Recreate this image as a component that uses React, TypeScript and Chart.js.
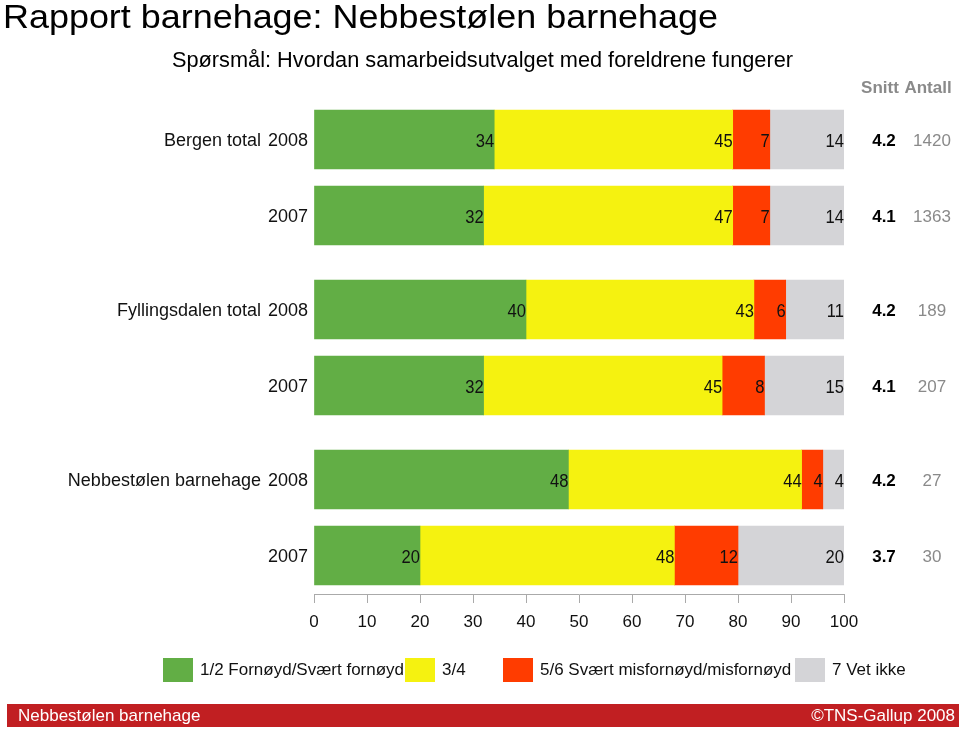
import React, { useEffect, useRef } from "react";
import { Chart, registerables } from "chart.js";

Chart.register(...registerables);

// ---------- data ----------
const groups = ["Bergen total", "Fyllingsdalen total", "Nebbestølen barnehage"];
const years = ["2008", "2007"];
const rowGroup = [0, 0, 1, 1, 2, 2];
const rowYear = [0, 1, 0, 1, 0, 1];

const seriesNames = [
  "1/2 Fornøyd/Svært fornøyd",
  "3/4",
  "5/6 Svært misfornøyd/misfornøyd",
  "7 Vet ikke",
];
const satisfied = [34, 32, 40, 32, 48, 20];
const middle = [45, 47, 43, 45, 44, 48];
const dissatisfied = [7, 7, 6, 8, 4, 12];
const dontKnow = [14, 14, 11, 15, 4, 20];

const snitt = ["4.2", "4.1", "4.2", "4.1", "4.2", "3.7"];
const antall = ["1420", "1363", "189", "207", "27", "30"];

const xTicks = [0, 10, 20, 30, 40, 50, 60, 70, 80, 90, 100];

const title = "Rapport barnehage: Nebbestølen barnehage";
const subtitle = "Spørsmål: Hvordan samarbeidsutvalget med foreldrene fungerer";
const footerLeft = "Nebbestølen barnehage";
const footerRight = "©TNS-Gallup 2008";

// ---------- styles / layout ----------
const colors = ["#62ae45", "#f5f210", "#ff3c00", "#d4d4d7"];
const FONT = "'Liberation Sans', Arial, Helvetica, sans-serif";
const GROUP_STEP = 170;
const ROW_STEP = 76;
const rowPositions = rowGroup.map((g, i) => g * GROUP_STEP + rowYear[i] * ROW_STEP);
const legendX = [163, 405, 503, 795];

function fitText(ctx: any, text: string, x: number, y: number, width: number) {
  const w = ctx.measureText(text).width;
  ctx.save();
  ctx.translate(x, y);
  ctx.scale(width / w, 1);
  ctx.fillText(text, 0, 0);
  ctx.restore();
}

const overlayPlugin = {
  id: "overlay",
  afterDatasetsDraw(chart: any) {
    const ctx = chart.ctx;
    ctx.save();
    ctx.font = `18px ${FONT}`;
    ctx.fillStyle = "#111";
    ctx.textAlign = "right";
    ctx.textBaseline = "middle";
    chart.data.datasets.forEach((ds: any, di: number) => {
      const meta = chart.getDatasetMeta(di);
      meta.data.forEach((el: any, i: number) => {
        ctx.save();
        ctx.translate(el.x, el.y + 3);
        ctx.scale(0.92, 1);
        ctx.fillText(String(ds.data[i]), 0, 0);
        ctx.restore();
      });
    });
    ctx.restore();
  },
  afterDraw(chart: any) {
    const ctx = chart.ctx;
    const yScale = chart.scales.y;
    ctx.save();
    // title
    ctx.fillStyle = "#000";
    ctx.textBaseline = "alphabetic";
    ctx.textAlign = "left";
    ctx.font = `33px ${FONT}`;
    fitText(ctx, title, 3, 28, 715);
    ctx.font = `22px ${FONT}`;
    fitText(ctx, subtitle, 172, 67, 621);

    // column headers
    ctx.font = `bold 17px ${FONT}`;
    ctx.fillStyle = "#8a8a8a";
    ctx.textAlign = "center";
    ctx.fillText("Snitt", 880, 93);
    ctx.fillText("Antall", 928, 93);

    // row labels and columns
    rowPositions.forEach((p, i) => {
      const y = yScale.getPixelForValue(p) + 2;
      ctx.textBaseline = "middle";
      ctx.font = `18px ${FONT}`;
      ctx.fillStyle = "#111";
      ctx.textAlign = "right";
      ctx.fillText(years[rowYear[i]], 308, y);
      if (rowYear[i] === 0) {
        ctx.fillText(groups[rowGroup[i]], 261, y);
      }
      ctx.font = `bold 17px ${FONT}`;
      ctx.textAlign = "center";
      ctx.fillStyle = "#000";
      ctx.fillText(snitt[i], 884, y);
      ctx.font = `17px ${FONT}`;
      ctx.fillStyle = "#8a8a8a";
      ctx.fillText(antall[i], 932, y);
    });

    // legend
    ctx.textAlign = "left";
    ctx.textBaseline = "middle";
    ctx.font = `17px ${FONT}`;
    seriesNames.forEach((name, i) => {
      ctx.fillStyle = colors[i];
      ctx.fillRect(legendX[i], 658, 30, 24);
      ctx.fillStyle = "#111";
      ctx.fillText(name, legendX[i] + 37, 670);
    });

    // footer
    ctx.fillStyle = "#c11f22";
    ctx.fillRect(7, 704, 952, 23);
    ctx.fillStyle = "#fff";
    ctx.font = `17px ${FONT}`;
    ctx.textAlign = "left";
    ctx.fillText(footerLeft, 18, 716);
    ctx.textAlign = "right";
    ctx.fillText(footerRight, 955, 716);
    ctx.restore();
  },
};

export default function App() {
  const canvasRef = useRef<HTMLCanvasElement | null>(null);

  useEffect(() => {
    document.body.style.margin = "0";
    const canvas = canvasRef.current;
    if (!canvas) return;
    const valueSeries = [satisfied, middle, dissatisfied, dontKnow];
    const chart = new Chart(canvas, {
      type: "bar",
      data: {
        labels: rowPositions as any,
        datasets: valueSeries.map((vals, i) => ({
          label: seriesNames[i],
          data: vals,
          backgroundColor: colors[i],
          borderWidth: 0,
          barThickness: 59,
        })),
      },
      options: {
        indexAxis: "y",
        animation: false,
        responsive: false,
        maintainAspectRatio: false,
        layout: { padding: { left: 314, right: 116, top: 100, bottom: 97 } },
        plugins: {
          legend: { display: false },
          title: { display: false },
          tooltip: { enabled: false },
        },
        scales: {
          x: {
            type: "linear",
            stacked: true,
            min: 0,
            max: 100,
            afterBuildTicks: (axis: any) => {
              axis.ticks = xTicks.map((v) => ({ value: v }));
            },
            afterFit: (scale: any) => {
              scale.height = 40;
            },
            grid: {
              drawOnChartArea: false,
              drawTicks: true,
              tickLength: 9,
              color: "#aaa",
            },
            border: { display: true, color: "#aaa" },
            ticks: {
              padding: 9,
              color: "#111",
              font: { size: 17, family: FONT },
              maxRotation: 0,
            },
          },
          y: {
            type: "linear",
            stacked: true,
            reverse: true,
            offset: false,
            min: -39.5,
            max: 454.5,
            display: false,
          },
        },
      },
      plugins: [overlayPlugin],
    });
    return () => chart.destroy();
  }, []);

  return (
    <div style={{ position: "absolute", left: 0, top: 0, width: 960, height: 731 }}>
      <canvas ref={canvasRef} width={960} height={731} style={{ display: "block" }} />
    </div>
  );
}
